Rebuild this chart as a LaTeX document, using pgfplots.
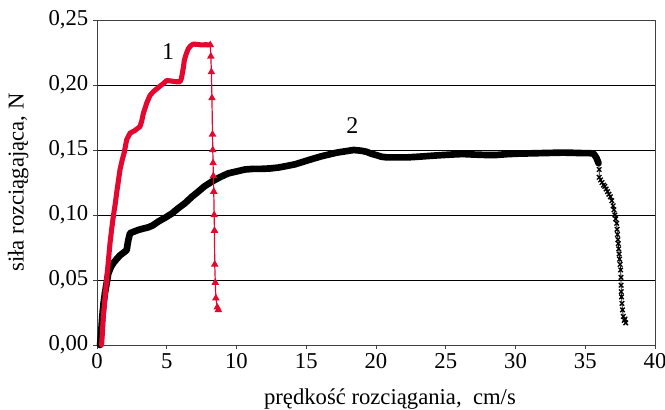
\documentclass[border=0pt]{standalone}
\usepackage{pgfplots}
\pgfplotsset{compat=1.18}
\usepackage{fontspec}
\setmainfont{Liberation Serif}
\definecolor{cred}{RGB}{228,8,48}
\begin{document}
\begin{tikzpicture}
\begin{axis}[
  scale only axis,
  width=418.5pt, height=243.75pt,
  xmin=0, xmax=40, ymin=0, ymax=0.25,
  xtick={0,5,...,40},
  ytick={0,0.05,0.10,0.15,0.20,0.25},
  yticklabels={{0,00},{0,05},{0,10},{0,15},{0,20},{0,25}},
  ymajorgrids, grid style={black, line width=0.6pt},
  axis line style={line width=0.6pt, black!75},
  tick align=outside, tick pos=left, major tick length=3pt,
  tick style={black!75, line width=0.6pt},
  tick label style={font=\fontsize{17}{19}\selectfont},
  /pgf/number format/assume math mode=true,
  xlabel={prędkość rozciągania,\ \ cm/s},
  ylabel={siła rozciągająca, N},
  label style={font=\fontsize{17}{19}\selectfont},
  xlabel style={at={(axis description cs:0.525,0)}, anchor=base, yshift=-45pt},
  ylabel style={at={(axis description cs:0,0.5)}, anchor=center, xshift=0pt, yshift=59pt},
  clip=false,
]
\coordinate (bl) at (rel axis cs:0,0);
% curve 2 (black)
\addplot[black, line width=5pt, line join=round, line cap=round] coordinates {
(0.22,0.0) (0.30,0.010) (0.38,0.022) (0.47,0.032) (0.57,0.040) (0.70,0.048) (0.81,0.055)
(1.0,0.060) (1.17,0.063) (1.4,0.066) (1.65,0.069) (1.9,0.071) (2.13,0.073)
(2.2,0.078) (2.25,0.081) (2.37,0.086) (2.6,0.087) (2.96,0.0885) (3.3,0.0895) (3.68,0.0905)
(4.0,0.092) (4.4,0.095) (4.9,0.098) (5.35,0.101) (5.8,0.105) (6.3,0.109) (6.8,0.114)
(7.26,0.118) (7.7,0.122) (8.22,0.1256) (8.8,0.129) (9.4,0.132) (10.0,0.1335)
(10.6,0.135) (11.2,0.1355) (11.8,0.1355) (12.4,0.1358) (13.0,0.1365) (13.6,0.1377)
(14.2,0.139) (14.8,0.141) (15.4,0.143) (16.0,0.1449) (16.6,0.1465) (17.2,0.148)
(17.8,0.149) (18.4,0.150) (18.9,0.1495) (19.3,0.1487) (19.7,0.147) (20.05,0.146)
(20.4,0.1448) (20.8,0.1443) (21.5,0.1443) (22.2,0.1443) (23.0,0.1448) (23.9,0.1455)
(24.6,0.146) (25.4,0.1465) (26.2,0.1469) (27.0,0.1465) (27.8,0.1462) (28.65,0.1462)
(29.4,0.1468) (30.2,0.1472) (31.0,0.1474) (31.8,0.1476) (32.6,0.1478) (33.4,0.148)
(34.2,0.1478) (34.8,0.1476) (35.3,0.1476) (35.6,0.1472) (35.8,0.144) (35.95,0.140)
};
\addplot[black, line width=0.6pt, mark=x, mark size=2.4pt, mark options={line width=1pt}] coordinates {
(35.95,0.140) (36.0,0.135) (36.0,0.129) (36.1,0.127) (36.2,0.125) (36.3,0.123) (36.4,0.122)
(36.5,0.120) (36.6,0.118) (36.7,0.116) (36.8,0.114) (36.9,0.111) (37.0,0.107) (37.06,0.104)
(37.12,0.100) (37.18,0.097) (37.25,0.0936) (37.28,0.089) (37.31,0.085) (37.34,0.081)
(37.37,0.078) (37.40,0.074) (37.43,0.070) (37.46,0.066) (37.50,0.062) (37.54,0.0577)
(37.56,0.052) (37.57,0.046) (37.58,0.041) (37.6,0.037) (37.63,0.032) (37.67,0.027)
(37.73,0.022) (37.8,0.019) (37.9,0.017) (37.85,0.020)
};
% curve 1 (red)
\addplot[cred, line width=3.8pt, line join=round, line cap=round] coordinates {
(0.33,0.0) (0.40,0.012) (0.45,0.022) (0.57,0.036) (0.69,0.050) (0.81,0.064) (0.93,0.078)
(1.05,0.089) (1.17,0.099) (1.30,0.108) (1.41,0.117) (1.53,0.126) (1.65,0.135)
(1.8,0.142) (1.95,0.148) (2.13,0.158) (2.37,0.163) (2.72,0.165) (3.08,0.168)
(3.2,0.172) (3.32,0.178) (3.56,0.186) (3.8,0.192) (4.05,0.195) (4.28,0.197)
(4.5,0.199) (4.75,0.201) (5.0,0.2035) (5.35,0.2030) (5.7,0.2025) (5.95,0.2025)
(6.05,0.205) (6.12,0.209) (6.2,0.214) (6.26,0.219) (6.4,0.224) (6.55,0.228)
(6.7,0.230) (6.9,0.2315) (7.2,0.2312) (7.5,0.2308) (7.8,0.2310) (8.1,0.2308)
};
\addplot[cred, line width=0.9pt, mark=triangle*, mark size=2.4pt] coordinates {
(8.12,0.2308) (8.16,0.222) (8.2,0.21) (8.24,0.19)
(8.28,0.162) (8.3,0.150) (8.32,0.140) (8.34,0.130) (8.37,0.118) (8.40,0.100)
(8.42,0.088) (8.44,0.062) (8.48,0.048) (8.52,0.036)
(8.62,0.029) (8.7,0.027)
};
\node[font=\fontsize{18}{20}\selectfont] at (axis cs:5.1,0.2254) {1};
\node[font=\fontsize{18}{20}\selectfont] at (axis cs:18.3,0.169) {2};
\end{axis}
\pgfresetboundingbox
\path[use as bounding box] ([xshift=-72.75pt, yshift=-48.75pt]bl) rectangle ++(498.75pt,307.5pt);
\end{tikzpicture}
\end{document}
